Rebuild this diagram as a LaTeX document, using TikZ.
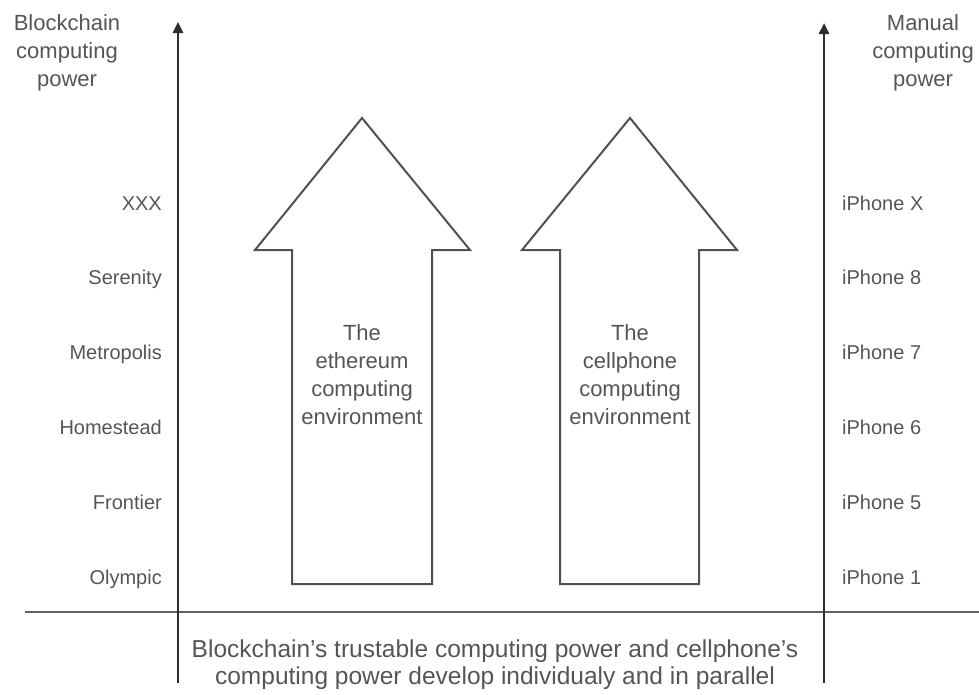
\documentclass[tikz,border=0pt]{standalone}
\usepackage{fontspec}
\setmainfont{Liberation Sans}
\usetikzlibrary{arrows.meta}
\definecolor{txtgray}{HTML}{555555}
\definecolor{axisgray}{HTML}{2E2E2E}
\definecolor{shapegray}{HTML}{505050}
\definecolor{rulegray}{HTML}{606060}
\begin{document}
\begin{tikzpicture}[x=1pt,y=-1pt,
  lbl/.style={text=txtgray, inner sep=0pt, font=\fontsize{20}{24}\selectfont},
  big/.style={text=txtgray, inner sep=0pt, align=center, font=\fontsize{22}{28}\selectfont},
  bottomtxt/.style={text=txtgray, inner sep=0pt, align=center, font=\fontsize{24.5}{27}\selectfont},
  axis/.style={draw=axisgray, line width=2.5pt, -{Triangle[length=11pt,width=10pt]}},
  uparrow/.style={draw=shapegray, line width=2pt, line join=miter, fill=white},
  baseline rule/.style={draw=rulegray, line width=2pt},
]
\useasboundingbox (0,0) rectangle (979,694);

% horizontal base line
\coordinate (hl) at (25,612);
\coordinate (hr) at (979,612);
\draw[baseline rule] (hl) -- (hr);

% axes
\coordinate (la0) at (178,683);
\coordinate (la1) at (178,22);
\coordinate (ra0) at (824,683);
\coordinate (ra1) at (824,23);
\draw[axis] (la0) -- (la1);
\draw[axis] (ra0) -- (ra1);

% axis titles
\node[big, anchor=north] (ltitle) at (67,14) {Blockchain\\computing\\power};
\node[big, anchor=north] (rtitle) at (923,14) {Manual\\computing\\power};

% left labels
\node[lbl, anchor=base east] (l1) at (162,210) {XXX};
\node[lbl, anchor=base east] (l2) at (162,284.8) {Serenity};
\node[lbl, anchor=base east] (l3) at (162,359.6) {Metropolis};
\node[lbl, anchor=base east] (l4) at (162,434.4) {Homestead};
\node[lbl, anchor=base east] (l5) at (162,509.2) {Frontier};
\node[lbl, anchor=base east] (l6) at (162,584) {Olympic};

% right labels
\node[lbl, anchor=base west] (r1) at (842,210) {iPhone X};
\node[lbl, anchor=base west] (r2) at (842,284.8) {iPhone 8};
\node[lbl, anchor=base west] (r3) at (842,359.6) {iPhone 7};
\node[lbl, anchor=base west] (r4) at (842,434.4) {iPhone 6};
\node[lbl, anchor=base west] (r5) at (842,509.2) {iPhone 5};
\node[lbl, anchor=base west] (r6) at (842,584) {iPhone 1};

% block arrows
\draw[uparrow] (292,584) -- (292,250) -- (255,250) -- (362,118) -- (470,250) -- (432,250) -- (432,584) -- cycle;
\draw[uparrow] (560,584) -- (560,250) -- (522,250) -- (630,118) -- (737,250) -- (699,250) -- (699,584) -- cycle;

\node[big, anchor=north] (eth) at (362,324) {The\\ethereum\\computing\\environment};
\node[big, anchor=north] (cell) at (630,324) {The\\cellphone\\computing\\environment};

% bottom caption
\node[bottomtxt, anchor=north] (caption) at (495,640) {Blockchain's trustable computing power and cellphone's\\computing power develop individualy and in parallel};
\end{tikzpicture}
\end{document}
